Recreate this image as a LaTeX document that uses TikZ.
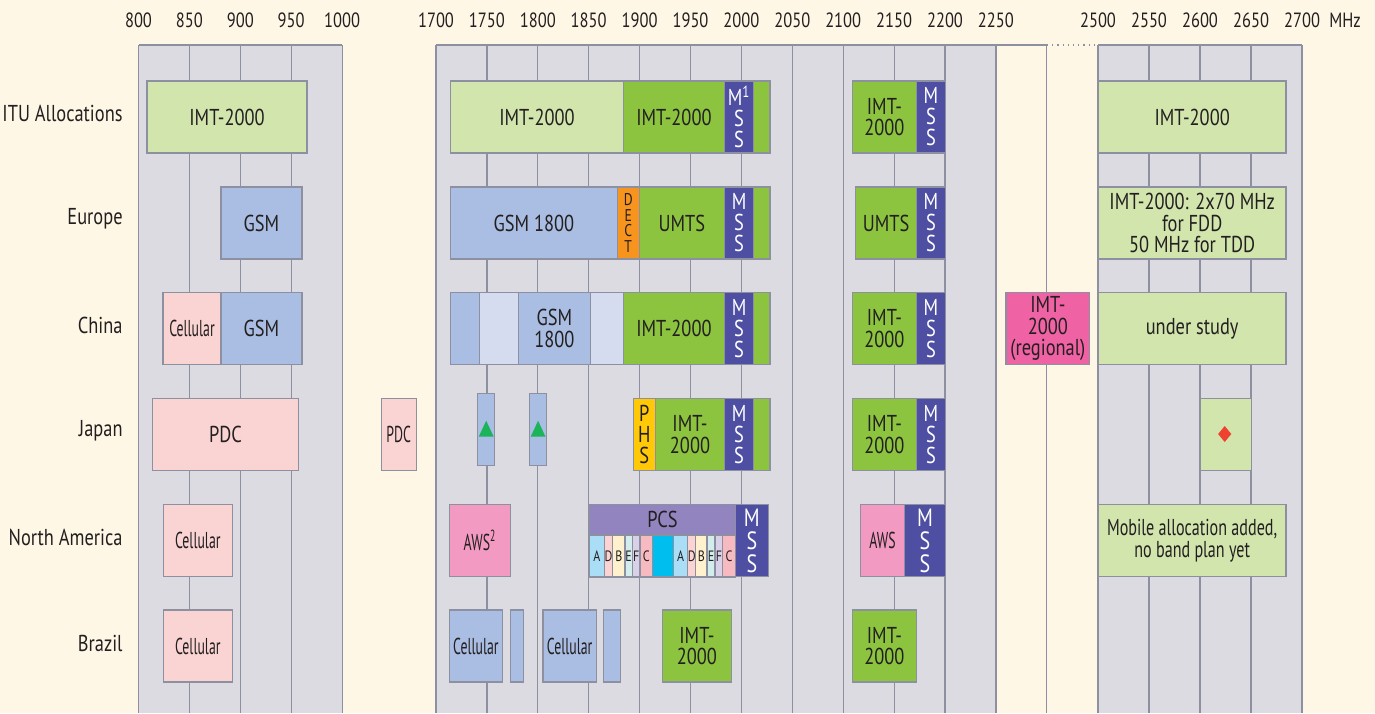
\documentclass[tikz,border=0pt]{standalone}
\usepackage{fontspec}
\setmainfont[FakeStretch=0.8]{PT Sans}
\newfontfamily\narrowfont[FakeStretch=0.6]{PT Sans}
\newfontfamily\semifont[FakeStretch=0.7]{PT Sans}

\definecolor{bg}{HTML}{FEF7E6}
\definecolor{panelgray}{HTML}{DCDBE1}
\definecolor{gridgray}{HTML}{8C90A0}
\definecolor{ink}{HTML}{231F20}
\definecolor{imtlight}{HTML}{D1E5AD}
\definecolor{imtdark}{HTML}{8CC43F}
\definecolor{mssblue}{HTML}{4E4FA2}
\definecolor{gsmblue}{HTML}{AABDE2}
\definecolor{gsmpale}{HTML}{D5DCEF}
\definecolor{cellpink}{HTML}{FAD3D3}
\definecolor{dectorange}{HTML}{F7941E}
\definecolor{phsyellow}{HTML}{FFC907}
\definecolor{regmagenta}{HTML}{EF62A3}
\definecolor{awspink}{HTML}{F39AC2}
\definecolor{pcspurple}{HTML}{9184BF}
\definecolor{pcscyan}{HTML}{00BEEE}
\definecolor{subA}{HTML}{A9DEF6}
\definecolor{subD}{HTML}{FBD3D3}
\definecolor{subB}{HTML}{FFF1CE}
\definecolor{subE}{HTML}{D3ECEC}
\definecolor{subF}{HTML}{D9D1E8}
\definecolor{subC}{HTML}{F8BAC1}
\definecolor{trigreen}{HTML}{1CB35B}
\definecolor{redmark}{HTML}{EE4130}

% band: name, left px, right px, centre y, style, text
\newcommand\band[6]{\node[band,#5,minimum width={(#3-#2)*0.5pt}] (#1) at ({(#2+#3)/2},#4) {#6};}

\begin{document}
\begin{tikzpicture}[x=0.5pt,y=-0.5pt,
band/.style={draw=gridgray, line width=0.6pt, inner sep=0pt, minimum height=36pt,
  align=center, text=ink, font=\fontsize{11.5}{10.8}\selectfont},
tall/.style={minimum height={#1*0.5pt}},
narrow/.style={font=\narrowfont\fontsize{11.5}{10.8}\selectfont},
semi/.style={font=\semifont\fontsize{11.5}{10.8}\selectfont},
mss/.style={fill=mssblue, text=white, font=\fontsize{11.5}{10.5}\selectfont},
bigmss/.style={font=\fontsize{12.5}{11.5}\selectfont},
dect/.style={font=\fontsize{8.5}{7.9}\selectfont},
phs/.style={font=\fontsize{11.5}{10.5}\selectfont},
sub/.style={font=\fontsize{7.5}{8}\selectfont, tall=42},
rowlabel/.style={anchor=east, inner sep=0pt, text=ink, font=\fontsize{11.5}{12}\selectfont},
ticklabel/.style={text=ink, font=\fontsize{10.3}{11}\selectfont},
gridline/.style={gridgray, line width=0.6pt}]

\useasboundingbox (0,0) rectangle (1375,713);
\fill[bg] (0,0) rectangle (1375,713);

% panels and grid
\fill[panelgray] (138.5,45) rectangle (342,713);
\fill[panelgray] (436,45) rectangle (996,713);
\fill[panelgray] (1098,45) rectangle (1302,713);
\foreach \f in {800,850,...,1000}
  \draw[gridline] ({138.5+(\f-800)*1.018},45) -- +(0,668);
\foreach \f in {1700,1750,...,2300}
  \draw[gridline] ({436+(\f-1700)*1.018},45) -- +(0,668);
\foreach \f in {2500,2550,...,2700}
  \draw[gridline] ({1098+(\f-2500)*1.02},45) -- +(0,668);
\draw[gridline] (138.5,45) -- (342,45);
\draw[gridline] (436,45) -- (1047,45);
\draw[gridline, dotted] (1047,45) -- (1098,45);
\draw[gridline] (1098,45) -- (1302,45);

% axis
\foreach \f in {800,850,...,1000}
  \node[ticklabel] (t\f) at ({138.5+(\f-800)*1.018},20) {\f};
\foreach \f in {1700,1750,...,2250}
  \node[ticklabel] (t\f) at ({436+(\f-1700)*1.018},20) {\f};
\foreach \f in {2500,2550,...,2700}
  \node[ticklabel] (t\f) at ({1098+(\f-2500)*1.02},20) {\f};
\node[ticklabel] (mhz) at (1345,20) {MHz};

% row labels
\node[rowlabel] (lITU) at (123,113) {ITU Allocations};
\node[rowlabel] (lEU) at (123,219) {Europe};
\node[rowlabel] (lCN) at (123,325) {China};
\node[rowlabel] (lJP) at (123,431) {Japan};
\node[rowlabel] (lNA) at (123,537) {North America};
\node[rowlabel] (lBR) at (123,643) {Brazil};

% ITU
\band{ituA}{147}{307}{117}{fill=imtlight}{IMT-2000}
\band{ituB}{450.7}{623.2}{117}{fill=imtlight}{IMT-2000}
\band{ituC}{623.2}{724.6}{117}{fill=imtdark}{IMT-2000}
\band{ituD}{724.6}{753.6}{117}{mss}{M\textsuperscript{1}\\S\\S}
\band{ituE}{753.6}{770}{117}{fill=imtdark}{}
\band{ituF}{852.5}{916.4}{117}{fill=imtdark}{IMT-\\2000}
\band{ituG}{916.4}{945.4}{117}{mss}{M\\S\\S}
\band{ituH}{1098.3}{1286}{117}{fill=imtlight}{IMT-2000}

% Europe
\band{euA}{221}{302}{223}{fill=gsmblue}{GSM}
\band{euB}{450.7}{617.1}{223}{fill=gsmblue}{GSM 1800}
\band{euC}{617.1}{639.3}{223}{fill=dectorange,dect}{D\\E\\C\\T}
\band{euD}{639.3}{724.6}{223}{fill=imtdark}{UMTS}
\band{euE}{724.6}{753.6}{223}{mss}{M\\S\\S}
\band{euF}{753.6}{770}{223}{fill=imtdark}{}
\band{euG}{855.7}{916.4}{223}{fill=imtdark}{UMTS}
\band{euH}{916.4}{945.4}{223}{mss}{M\\S\\S}
\band{euI}{1098.3}{1286}{223}{fill=imtlight}{IMT-2000: 2x70 MHz\\for FDD\\50 MHz for TDD}

% China
\band{cnA}{163}{221}{328.5}{fill=cellpink,narrow}{Cellular}
\band{cnB}{221}{302}{328.5}{fill=gsmblue}{GSM}
\band{cnC}{450.7}{479.6}{328.5}{fill=gsmblue}{}
\band{cnD}{479.6}{518.2}{328.5}{fill=gsmpale}{}
\band{cnE}{518.2}{590.4}{328.5}{fill=gsmblue}{GSM\\1800}
\band{cnF}{590.4}{623.2}{328.5}{fill=gsmpale}{}
\band{cnG}{623.2}{724.6}{328.5}{fill=imtdark}{IMT-2000}
\band{cnH}{724.6}{753.6}{328.5}{mss}{M\\S\\S}
\band{cnI}{753.6}{770}{328.5}{fill=imtdark}{}
\band{cnJ}{852.5}{916.4}{328.5}{fill=imtdark}{IMT-\\2000}
\band{cnK}{916.4}{945.4}{328.5}{mss}{M\\S\\S}
\band{cnL}{1006}{1089.7}{328.5}{fill=regmagenta}{IMT-\\2000\\(regional)}
\band{cnM}{1098.3}{1286}{328.5}{fill=imtlight}{under study}

% Japan
\band{jpA}{152.3}{298.7}{434.5}{fill=cellpink}{PDC}
\band{jpB}{381.3}{416.3}{434.5}{fill=cellpink,narrow}{PDC}
\band{jpC}{477.3}{494.3}{429.3}{fill=gsmblue}{}
\band{jpD}{529.3}{546.7}{429.3}{fill=gsmblue}{}
\band{jpE}{633.2}{655.4}{434.5}{fill=phsyellow,phs}{P\\H\\S}
\band{jpF}{655.4}{724.6}{434.5}{fill=imtdark}{IMT-\\2000}
\band{jpG}{724.6}{753.6}{434.5}{mss}{M\\S\\S}
\band{jpH}{753.6}{770}{434.5}{fill=imtdark}{}
\band{jpI}{852.5}{916.4}{434.5}{fill=imtdark}{IMT-\\2000}
\band{jpJ}{916.4}{945.4}{434.5}{mss}{M\\S\\S}
\band{jpK}{1200.7}{1251.7}{434.5}{fill=imtlight}{}
\fill[trigreen] (478.7,436.7) -- (493.7,436.7) -- (486.2,420.7) -- cycle;
\fill[trigreen] (530.7,436.7) -- (545.5,436.7) -- (538.1,420.7) -- cycle;
\fill[redmark] (1224.7,426) -- (1231.3,434) -- (1224.7,442) -- (1218.1,434) -- cycle;

% North America
\band{naA}{163.3}{232.3}{540.5}{fill=cellpink,narrow}{Cellular}
\band{naB}{449.3}{510.7}{540.5}{fill=awspink,narrow}{AWS\textsuperscript{2}}
\band{naC}{589.6}{735.4}{519.7}{fill=pcspurple,tall=31}{PCS}
\foreach \a/\b/\c/\t [count=\i] in {589.6/604.3/subA/A, 604.3/612.7/subD/D,
    612.7/625/subB/B, 625/632.3/subE/E, 632.3/640/subF/F, 640/652.7/subC/C,
    652.7/673.7/pcscyan/{}, 673.7/687.7/subA/A, 687.7/695.7/subD/D,
    695.7/707/subB/B, 707/715/subE/E, 715/722.7/subF/F, 722.7/735.4/subC/C}
  {\band{pcs\i}{\a}{\b}{556}{fill=\c,sub}{\t}}
\band{naD}{735.4}{768.3}{540.5}{mss,bigmss}{M\\S\\S}
\band{naE}{860.4}{904.6}{540.5}{fill=awspink,narrow}{AWS}
\band{naF}{904.6}{945.4}{540.5}{mss,bigmss}{M\\S\\S}
\band{naG}{1098.3}{1286}{540.5}{fill=imtlight,semi}{Mobile allocation added,\\no band plan yet}

% Brazil
\band{brA}{163.3}{232.3}{646}{fill=cellpink,narrow}{Cellular}
\band{brB}{449.3}{502.5}{646}{fill=gsmblue,narrow}{Cellular}
\band{brC}{510.4}{523.6}{646}{fill=gsmblue}{}
\band{brD}{542.9}{596.4}{646}{fill=gsmblue,narrow}{Cellular}
\band{brE}{603.6}{620.7}{646}{fill=gsmblue}{}
\band{brF}{662.5}{731.4}{646}{fill=imtdark}{IMT-\\2000}
\band{brG}{852.5}{916.4}{646}{fill=imtdark}{IMT-\\2000}
\end{tikzpicture}
\end{document}
